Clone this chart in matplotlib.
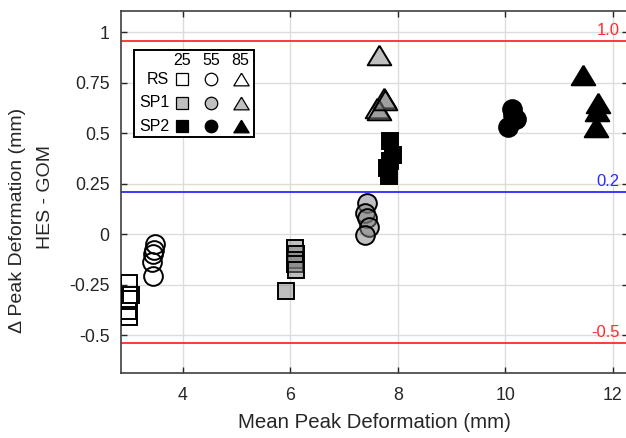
import matplotlib
matplotlib.use('Agg')
import matplotlib.pyplot as plt

plt.rcParams['font.family'] = ['Liberation Sans', 'DejaVu Sans']
plt.rcParams['axes.unicode_minus'] = False

# RS (open markers)
rs25_x = [3.00, 3.04, 3.00, 2.99, 3.00]
rs25_y = [-0.24, -0.30, -0.32, -0.38, -0.41]
rs55_x = [3.49, 3.46, 3.45, 3.43, 3.45]
rs55_y = [-0.05, -0.08, -0.10, -0.14, -0.21]

# SP1 (grey, semi transparent)
sp125_x = [6.09, 6.10, 6.08, 6.09, 6.10, 5.92]
sp125_y = [-0.07, -0.10, -0.13, -0.15, -0.18, -0.28]
sp155_x = [7.43, 7.40, 7.43, 7.46, 7.40]
sp155_y = [0.156, 0.103, 0.078, 0.037, -0.004]
sp185_x = [7.66, 7.74, 7.61, 7.66, 7.77]
sp185_y = [0.888, 0.673, 0.623, 0.615, 0.665]

# SP2 (black)
sp225_x = [7.85, 7.92, 7.86, 7.80, 7.84]
sp225_y = [0.46, 0.39, 0.36, 0.33, 0.29]
sp255_x = [10.12, 10.20, 10.05, 10.15]
sp255_y = [0.62, 0.57, 0.53, 0.59]
sp285_x = [11.45, 11.73, 11.71, 11.68]
sp285_y = [0.79, 0.65, 0.61, 0.53]

# bias and limits of agreement
loa_y = [0.958, 0.211, -0.538]
loa_labels = ['1.0', '0.2', '-0.5']
loa_colors = ['#ff2a2a', '#2a2aff', '#ff2a2a']

xticks = [4, 6, 8, 10, 12]
yticks = [-0.5, -0.25, 0, 0.25, 0.5, 0.75, 1]
yticklabels = ['-0.5', '-0.25', '0', '0.25', '0.5', '0.75', '1']

speeds = ['25', '55', '85']
rows = ['RS', 'SP1', 'SP2']

tri = [(0, 0.83), (-1, -0.83), (1, -0.83), (0, 0.83)]  # wide MATLAB-like triangle
shapes = ['s', 'o', tri]
sizes = [11.5, 13.5, 17]
faces = ['none', (0.5, 0.5, 0.5, 0.5), 'black']

fig = plt.figure(figsize=(6.26, 4.38), dpi=100)
ax = fig.add_axes([0.1928, 0.149, 0.81, 0.826])

for yv, lab, c in zip(loa_y, loa_labels, loa_colors):
    ax.axhline(yv, color=c, lw=1.3, zorder=2)
    ax.annotate(lab, xy=(12.13, yv), xytext=(0, 2), textcoords='offset points',
                ha='right', va='bottom', color=c, fontsize=12)

groups = [
    (rs25_x, rs25_y, 0, 0), (rs55_x, rs55_y, 1, 0),
    (sp125_x, sp125_y, 0, 1), (sp155_x, sp155_y, 1, 1), (sp185_x, sp185_y, 2, 1),
    (sp225_x, sp225_y, 0, 2), (sp255_x, sp255_y, 1, 2), (sp285_x, sp285_y, 2, 2),
]
for gx, gy, si, ri in groups:
    ax.plot(gx, gy, ls='none', marker=shapes[si], ms=sizes[si],
            mfc=faces[ri], mec='black', mew=1.4, zorder=3)

ax.set_xlim(2.845, 12.28)
ax.set_ylim(-0.687, 1.106)
ax.set_xticks(xticks)
ax.set_yticks(yticks)
ax.set_yticklabels(yticklabels)
ax.grid(True, color='#dcdcdc', lw=1)
ax.set_axisbelow(True)
ax.tick_params(direction='in', length=4, width=1, top=True, right=True,
               labelsize=12.8, colors='#262626', pad=8)
ax.tick_params(axis='x', pad=10)
for s in ax.spines.values():
    s.set_color('#404040')
    s.set_linewidth(1.2)

ax.set_xlabel('Mean Peak Deformation (mm)', fontsize=14.7, color='#262626', labelpad=7)
# two-line y label, placed line by line
fig.text(18 / 626, 1 - 220 / 438, '\u0394 Peak Deformation (mm)', rotation=90,
         ha='center', va='center', fontsize=14, color='#262626')
fig.text(45 / 626, 1 - 197 / 438, 'HES - GOM', rotation=90,
         ha='center', va='center', fontsize=14, color='#262626')

# key box
lg = fig.add_axes([0.214, 0.687, 0.1917, 0.1986])
lg.set_xlim(0, 1)
lg.set_ylim(0, 1)
lg.set_xticks([])
lg.set_yticks([])
for s in lg.spines.values():
    s.set_linewidth(1.4)
col_x = [0.40, 0.646, 0.889]
row_y = [0.663, 0.394, 0.123]
for cx, sp in zip(col_x, speeds):
    lg.text(cx, 0.885, sp, ha='center', va='center', fontsize=11.5)
for ri, (ry, r) in enumerate(zip(row_y, rows)):
    lg.text(0.294, ry, r, ha='right', va='center', fontsize=11.5)
    for si, cx in enumerate(col_x):
        lg.plot([cx], [ry], ls='none', marker=shapes[si], ms=[8.5, 9, 11][si],
                mfc=faces[ri] if ri != 1 else '#c0c0c0', mec='black', mew=0.9)

fig.savefig('out.png', dpi=100)
